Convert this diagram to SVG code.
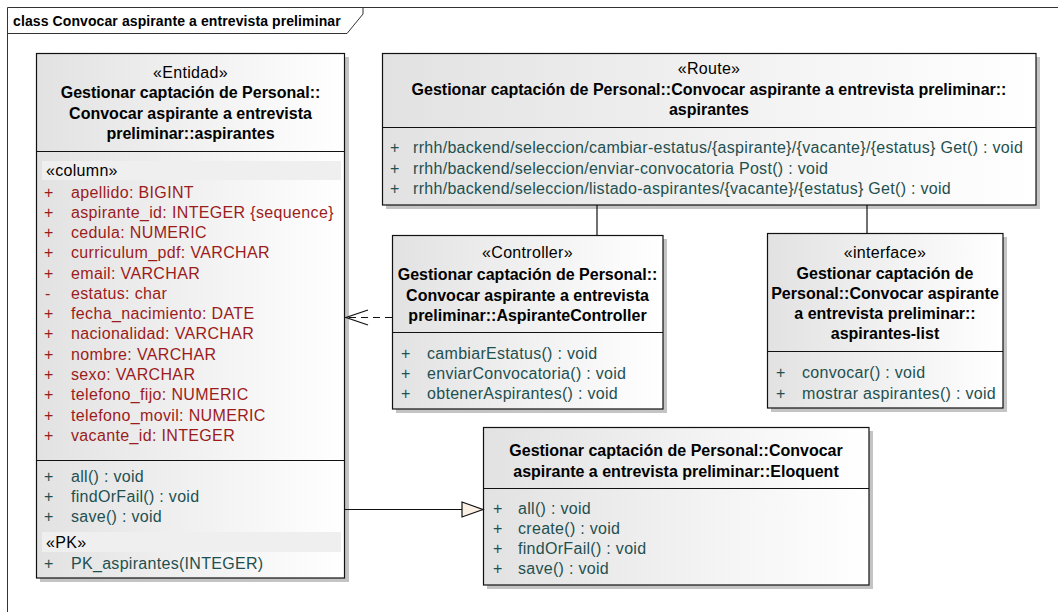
<svg xmlns="http://www.w3.org/2000/svg" width="1058" height="612" viewBox="0 0 1058 612">
<defs>
<linearGradient id="g" x1="0" y1="0" x2="1" y2="0">
<stop offset="0" stop-color="#e2e2e2"/>
<stop offset="1" stop-color="#ffffff"/>
</linearGradient>
</defs>
<style>
text{font-family:"Liberation Sans",Arial,sans-serif;font-size:16px;fill:#000}
.b{font-weight:bold}
.c{text-anchor:middle}
.r{letter-spacing:0.3px}
.a{fill:#9b1c1c;letter-spacing:0.35px}
.o{fill:#1f5050;letter-spacing:0.3px}
.box{fill:url(#g);stroke:#111;stroke-width:1.2}
.sh{fill:#c4c4c4}
.div{stroke:#111;stroke-width:1.2}
.band{fill:#efefef}
.ln{stroke:#111;stroke-width:1.2;fill:none}
</style>
<rect x="0" y="0" width="1058" height="612" fill="#fff"/>
<g id="frame">
<path d="M7.5,612 V7.5 H1058" fill="none" stroke="#333" stroke-width="1"/>
<path d="M7.5,33.5 H347 L363,14 V7.5" fill="none" stroke="#333" stroke-width="1"/>
<text x="13" y="26" class="b" style="font-size:14px;letter-spacing:0.1px">class Convocar aspirante a entrevista preliminar</text>
</g>
<g id="entity">
<rect x="40" y="57" width="309" height="525" class="sh"/>
<rect x="36.5" y="53.5" width="308" height="524.5" class="box"/>
<text x="190.5" y="78" class="c r">«Entidad»</text>
<text x="190.5" y="98" class="c b">Gestionar captación de Personal::</text>
<text x="190.5" y="118.5" class="c b">Convocar aspirante a entrevista</text>
<text x="190.5" y="139" class="c b">preliminar::aspirantes</text>
<line x1="36.5" y1="151.5" x2="344.5" y2="151.5" class="div"/>
<rect x="42" y="161" width="299" height="19" class="band"/>
<text x="46" y="176" class="r">«column»</text>
<text x="44" y="197.5" class="a">+</text><text x="71" y="197.5" class="a">apellido:  BIGINT</text>
<text x="44" y="217.5" class="a">+</text><text x="71" y="217.5" class="a">aspirante_id:  INTEGER {sequence}</text>
<text x="44" y="237.5" class="a">+</text><text x="71" y="237.5" class="a">cedula:  NUMERIC</text>
<text x="44" y="258" class="a">+</text><text x="71" y="258" class="a">curriculum_pdf:  VARCHAR</text>
<text x="44" y="278.5" class="a">+</text><text x="71" y="278.5" class="a">email:  VARCHAR</text>
<text x="45" y="298.5" class="a">-</text><text x="71" y="298.5" class="a">estatus:  char</text>
<text x="44" y="318.5" class="a">+</text><text x="71" y="318.5" class="a">fecha_nacimiento:  DATE</text>
<text x="44" y="339" class="a">+</text><text x="71" y="339" class="a">nacionalidad:  VARCHAR</text>
<text x="44" y="359.5" class="a">+</text><text x="71" y="359.5" class="a">nombre:  VARCHAR</text>
<text x="44" y="379.5" class="a">+</text><text x="71" y="379.5" class="a">sexo:  VARCHAR</text>
<text x="44" y="400" class="a">+</text><text x="71" y="400" class="a">telefono_fijo:  NUMERIC</text>
<text x="44" y="420.5" class="a">+</text><text x="71" y="420.5" class="a">telefono_movil:  NUMERIC</text>
<text x="44" y="441" class="a">+</text><text x="71" y="441" class="a">vacante_id:  INTEGER</text>
<line x1="36.5" y1="460.5" x2="344.5" y2="460.5" class="div"/>
<text x="44" y="481.5" class="o">+</text><text x="71" y="481.5" class="o">all() : void</text>
<text x="44" y="501.5" class="o">+</text><text x="71" y="501.5" class="o">findOrFail() : void</text>
<text x="44" y="522" class="o">+</text><text x="71" y="522" class="o">save() : void</text>
<rect x="42" y="532" width="299" height="20" class="band"/>
<text x="46" y="548" class="r">«PK»</text>
<text x="44" y="568.5" class="o">+</text><text x="71" y="568.5" class="o">PK_aspirantes(INTEGER)</text>
</g>
<g id="route">
<rect x="386" y="57" width="654" height="152" class="sh"/>
<rect x="382.5" y="53.5" width="653.5" height="151.5" class="box"/>
<text x="709" y="74" class="c r">«Route»</text>
<text x="709" y="94.5" class="c b">Gestionar captación de Personal::Convocar aspirante a entrevista preliminar::</text>
<text x="709" y="115" class="c b">aspirantes</text>
<line x1="382.5" y1="127.5" x2="1036" y2="127.5" class="div"/>
<text x="390" y="153" class="o">+</text><text x="413" y="153" class="o">rrhh/backend/seleccion/cambiar-estatus/{aspirante}/{vacante}/{estatus} Get() : void</text>
<text x="390" y="173.5" class="o">+</text><text x="413" y="173.5" class="o">rrhh/backend/seleccion/enviar-convocatoria Post() : void</text>
<text x="390" y="193.5" class="o">+</text><text x="413" y="193.5" class="o">rrhh/backend/seleccion/listado-aspirantes/{vacante}/{estatus} Get() : void</text>
</g>
<g id="controller">
<rect x="396" y="239" width="271" height="174" class="sh"/>
<rect x="392.5" y="235.5" width="270.5" height="173.5" class="box"/>
<text x="527.5" y="257.5" class="c r">«Controller»</text>
<text x="527.5" y="279.5" class="c b">Gestionar captación de Personal::</text>
<text x="527.5" y="300.5" class="c b">Convocar aspirante a entrevista</text>
<text x="527.5" y="320.5" class="c b">preliminar::AspiranteController</text>
<line x1="392.5" y1="332.5" x2="663" y2="332.5" class="div"/>
<text x="401" y="358.5" class="o">+</text><text x="427" y="358.5" class="o">cambiarEstatus() : void</text>
<text x="401" y="378.5" class="o">+</text><text x="427" y="378.5" class="o">enviarConvocatoria() : void</text>
<text x="401" y="398.5" class="o">+</text><text x="427" y="398.5" class="o">obtenerAspirantes() : void</text>
</g>
<g id="interface">
<rect x="771" y="237" width="236" height="175" class="sh"/>
<rect x="767.5" y="233.5" width="235.5" height="174.5" class="box"/>
<text x="885" y="257.5" class="c r">«interface»</text>
<text x="885" y="278.5" class="c b">Gestionar captación de</text>
<text x="885" y="298.5" class="c b">Personal::Convocar aspirante</text>
<text x="885" y="319" class="c b">a entrevista preliminar::</text>
<text x="885" y="339" class="c b">aspirantes-list</text>
<line x1="767.5" y1="351.5" x2="1003" y2="351.5" class="div"/>
<text x="776" y="377.5" class="o">+</text><text x="802" y="377.5" class="o">convocar() : void</text>
<text x="776" y="398.5" class="o">+</text><text x="802" y="398.5" class="o">mostrar aspirantes() : void</text>
</g>
<g id="eloquent">
<rect x="487" y="431" width="386" height="158" class="sh"/>
<rect x="483.5" y="427.5" width="385.5" height="157.5" class="box"/>
<text x="676" y="455.5" class="c b">Gestionar captación de Personal::Convocar</text>
<text x="676" y="476.5" class="c b">aspirante a entrevista preliminar::Eloquent</text>
<line x1="483.5" y1="488.5" x2="869" y2="488.5" class="div"/>
<text x="493" y="513.5" class="o">+</text><text x="518" y="513.5" class="o">all() : void</text>
<text x="493" y="533.5" class="o">+</text><text x="518" y="533.5" class="o">create() : void</text>
<text x="493" y="553.5" class="o">+</text><text x="518" y="553.5" class="o">findOrFail() : void</text>
<text x="493" y="574" class="o">+</text><text x="518" y="574" class="o">save() : void</text>
</g>
<g id="connectors">
<line x1="597" y1="205" x2="597" y2="235" class="ln"/>
<line x1="867" y1="205" x2="867" y2="233" class="ln"/>
<line x1="392" y1="317.5" x2="346" y2="317.5" class="ln" stroke-dasharray="7,5"/>
<path d="M368,310 L346,317.5 L368,325" class="ln"/>
<line x1="345" y1="509.5" x2="462" y2="509.5" class="ln"/>
<path d="M462,502 L483,509.5 L462,517 Z" fill="#f9efe2" stroke="#111" stroke-width="1.2"/>
</g>
</svg>
